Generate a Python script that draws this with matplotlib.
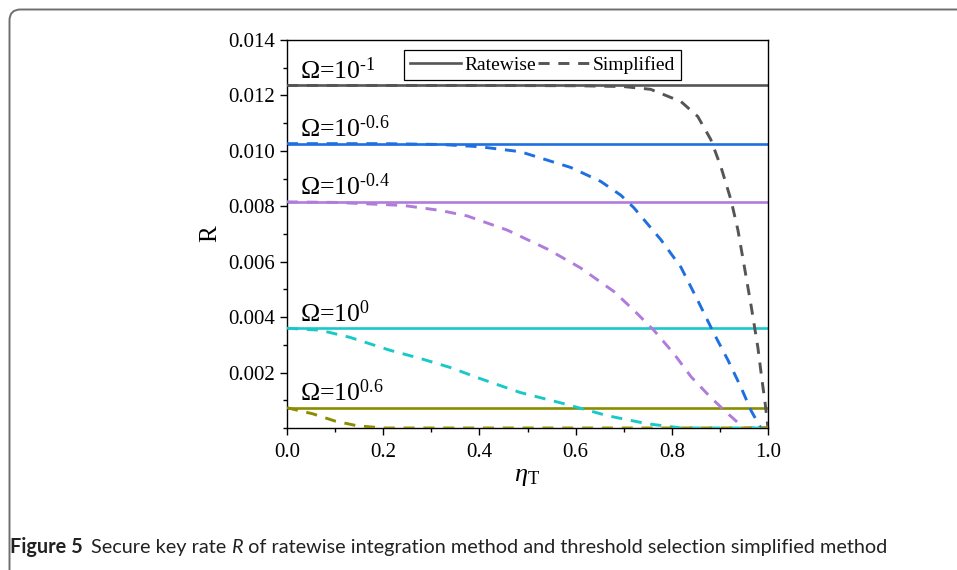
import numpy as np
import matplotlib
matplotlib.use('Agg')
import matplotlib.pyplot as plt
from matplotlib.patches import FancyBboxPatch
from matplotlib.transforms import IdentityTransform
from matplotlib.ticker import MultipleLocator
from matplotlib.lines import Line2D

plt.rcParams['font.family'] = 'Liberation Serif'
plt.rcParams['mathtext.fontset'] = 'custom'
plt.rcParams['mathtext.rm'] = 'Liberation Serif'
plt.rcParams['mathtext.it'] = 'Liberation Serif:italic'

# Omega values and ratewise (flat) secure key rates
omega_exp = ['-1', '-0.6', '-0.4', '0', '0.6']
colors = ['#555555', '#1e6fe0', '#b07cdc', '#1bc8c8', '#8c8c00']
R_ratewise = [0.01236, 0.01026, 0.00816, 0.0036, 0.00073]

# simplified method curves
eta_gray = [0, 0.2, 0.4, 0.6, 0.7, 0.756, 0.819, 0.854, 0.881, 0.902, 0.923, 0.9375,
            0.95, 0.965, 0.979, 0.987, 0.994, 1.0]
R_gray = [0.01236, 0.01236, 0.01236, 0.01235, 0.01232, 0.01222, 0.01178, 0.01124, 0.01041,
          0.00943, 0.00823, 0.00714, 0.0059, 0.00440, 0.0029, 0.00180, 0.00090, 0.0]

eta_blue = [0, 0.2, 0.32, 0.40, 0.485, 0.59, 0.652, 0.694, 0.721, 0.777, 0.819, 0.854,
            0.888, 0.917, 0.944, 0.965, 0.985, 1.0]
R_blue = [0.01026, 0.01026, 0.01023, 0.01015, 0.00997, 0.00940, 0.00890, 0.00840, 0.00795,
          0.00680, 0.0058, 0.0046, 0.0034, 0.00244, 0.00146, 0.00062, 0.0, 0.0]

eta_purple = [0, 0.1, 0.242, 0.319, 0.375, 0.458, 0.542, 0.61, 0.68, 0.721, 0.763, 0.804,
              0.84, 0.881, 0.917, 0.95, 1.0]
R_purple = [0.00816, 0.00814, 0.00803, 0.00785, 0.00765, 0.00714, 0.00645, 0.00578, 0.00492,
            0.00425, 0.00352, 0.00269, 0.00185, 0.0011, 0.00051, 0.0, 0.0]

eta_cyan = [0, 0.069, 0.131, 0.215, 0.277, 0.34, 0.402, 0.485, 0.575, 0.667, 0.75, 0.82, 1.0]
R_cyan = [0.0036, 0.00353, 0.00327, 0.0028, 0.00251, 0.00218, 0.00178, 0.00128, 0.00088,
          0.00044, 0.00015, 0.0, 0.0]

eta_olive = [0, 0.054, 0.1, 0.146, 0.2, 1.0]
R_olive = [0.00073, 0.00051, 0.00025, 0.00008, 0.0, 0.0]

simplified = [(eta_gray, R_gray), (eta_blue, R_blue), (eta_purple, R_purple),
              (eta_cyan, R_cyan), (eta_olive, R_olive)]

fig = plt.figure(figsize=(9.57, 5.70), dpi=100)
ax = fig.add_axes([287/957, 142/570, 481/957, 388/570])

for i in range(5):
    ax.axhline(R_ratewise[i], color=colors[i], lw=1.9, zorder=2)
    eta, R = simplified[i]
    ax.plot(eta, R, color=colors[i], lw=2.1, dashes=(3.8, 3.0), zorder=3)
    lbl = r'$\Omega$=10$^{\text{' + omega_exp[i] + '}}$'
    ax.text(0.027, R_ratewise[i] + 0.00024, lbl, fontsize=18.5, va='baseline')

ax.set_xlim(0, 1.0)
ax.set_ylim(0, 0.014)
ax.set_xticks([0.0, 0.2, 0.4, 0.6, 0.8, 1.0])
ax.set_xticklabels(['0.0', '0.2', '0.4', '0.6', '0.8', '1.0'])
ax.set_yticks([0.002, 0.004, 0.006, 0.008, 0.010, 0.012, 0.014])
ax.set_yticklabels(['0.002', '0.004', '0.006', '0.008', '0.010', '0.012', '0.014'])
ax.xaxis.set_minor_locator(MultipleLocator(0.1))
ax.yaxis.set_minor_locator(MultipleLocator(0.001))
ax.tick_params(which='major', direction='out', length=5, width=1, labelsize=15)
ax.tick_params(axis='x', which='major', pad=6)
ax.tick_params(which='minor', direction='out', length=2.8, width=1)
for s in ax.spines.values():
    s.set_linewidth(1.0)

ax.set_ylabel('R', fontsize=18, labelpad=5)
ax.set_xlabel(r'$\eta_{\mathrm{T}}$', fontsize=19, labelpad=3)

# legend
h1 = Line2D([], [], color='#555555', lw=1.9)
h2 = Line2D([], [], color='#555555', lw=2.1, dashes=(3.8, 3.0))
leg = ax.legend([h1, h2], ['Ratewise', 'Simplified'], ncol=2, loc='upper center',
                bbox_to_anchor=(0.531, 0.973), fontsize=14, frameon=True, fancybox=False,
                edgecolor='black', framealpha=1, handlelength=2.6, handletextpad=0.2,
                columnspacing=0.1, borderpad=0.3, borderaxespad=0)
leg.get_frame().set_linewidth(0.9)

# frame around figure panel
box = FancyBboxPatch((9.5, -50), 1100, 560 - (-50) + 0.5,
                     boxstyle='round,pad=0,rounding_size=11',
                     transform=IdentityTransform(), fill=False, edgecolor='#6f6f6f', lw=1.4)
fig.patches.append(box)

# caption, pieces placed one after another on the same baseline
cap_y = 1 - 553/570
parts = [('Figure 5', 'bold', 'normal', 8), ('Secure key rate ', 'normal', 'normal', 0),
         ('R', 'normal', 'italic', 0),
         (' of ratewise integration method and threshold selection simplified method',
          'normal', 'normal', 0)]
renderer = fig.canvas.get_renderer()
x = 10
for txt, weight, style, gap in parts:
    t = fig.text(x/957, cap_y, txt, fontsize=14.3, fontweight=weight, style=style,
                 family='Lato', color='#222222', va='baseline')
    bb = t.get_window_extent(renderer)
    x = bb.x1 + gap

fig.savefig('out.png', dpi=100)
